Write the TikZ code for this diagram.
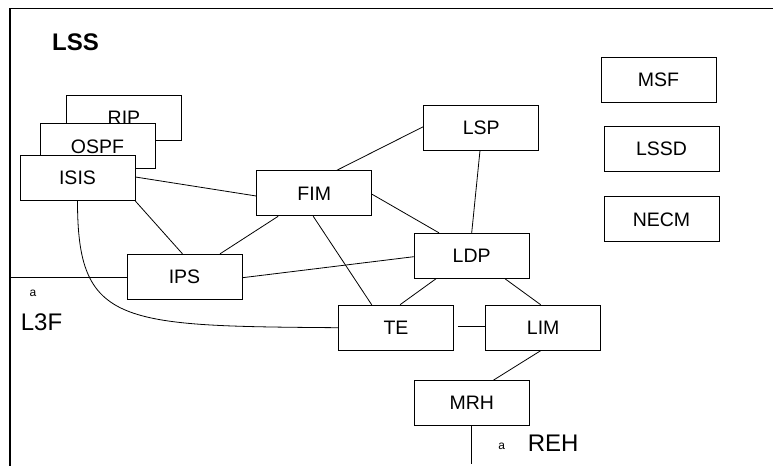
\documentclass[tikz,border=0pt]{standalone}
\usepackage{fontspec}
\setmainfont{Liberation Sans}
\usetikzlibrary{calc}
\begin{document}
\begin{tikzpicture}[x=1pt,y=-1pt,
  blk/.style={draw, fill=white, line width=0.9pt, minimum width=115pt, minimum height=45pt, inner sep=0pt, font=\fontsize{19.5}{20}\selectfont},
  con/.style={line width=0.8pt},
  frm/.style={line width=1.2pt},
  lbl/.style={font=\fontsize{24}{24}\selectfont, inner sep=0pt, anchor=base west},
  ttl/.style={font=\fontsize{24}{24}\selectfont\bfseries, inner sep=0pt, anchor=base west},
  sml/.style={font=\fontsize{12}{12}\selectfont, inner sep=0pt}]
\useasboundingbox (0,0) rectangle (773,466);
% frame
\coordinate (fTR) at (773,8.7);
\coordinate (fTL) at (10,8.7);
\coordinate (fBL) at (10,466);
\draw[frm] (fTR) -- (fTL) -- (fBL);
% boxes
\node[blk] (rip) at (124,117.5) {RIP};
\node[blk] (ospf) at (97.5,146.3) {OSPF};
\node[blk] (isis) at (77.5,178.2) {ISIS};
\node[blk] (fim) at (314.2,193.3) {FIM};
\node[blk] (lsp) at (481.2,127.5) {LSP};
\node[blk] (ldp) at (471.7,255.8) {LDP};
\node[blk] (ips) at (184.5,276.8) {IPS};
\node[blk] (te) at (396,327.7) {TE};
\node[blk] (lim) at (543.2,327.7) {LIM};
\node[blk] (mrh) at (471.8,403.2) {MRH};
\node[blk] (msf) at (658.5,80.2) {MSF};
\node[blk] (lssd) at (661.5,149.2) {LSSD};
\node[blk] (necm) at (661.5,219.4) {NECM};
% connectors
\draw[con] ($(isis.east)+(0,-1.2)$) -- ($(fim.west)+(0,2.7)$);
\draw[con] (isis.south east) -- ($(ips.north)+(-2,0)$);
\draw[con] (isis.south) .. controls ($(isis.south)+(0,124)$) and ($(te.west)+(-218.5,-1.7)$) .. (te.west);
\draw[con] ($(fim.north)+(22.5,0)$) -- ($(lsp.west)+(0,-0.8)$);
\draw[con] ($(fim.east)+(0,1)$) -- ($(ldp.north)+(-32.7,0)$);
\draw[con] ($(fim.south)+(-36,0)$) -- ($(ips.north)+(35.5,0)$);
\draw[con] ($(fim.south)+(-1,0)$) -- ($(te.north)+(-24.3,0)$);
\draw[con] ($(lsp.south)+(-1.2,0)$) -- (ldp.north);
\draw[con] ($(ips.east)+(0,0.9)$) -- ($(ldp.west)+(0,0.9)$);
\draw[con] ($(ldp.south)+(-35.7,0)$) -- ($(te.north)+(4,0)$);
\draw[con] ($(ldp.south)+(33.3,0)$) -- ($(lim.north)+(-2.5,0)$);
\draw[con] ($(te.east)+(4,-1)$) -- ($(lim.west)+(0,-1)$);
\draw[con] ($(lim.south)+(-2.5,0)$) -- ($(mrh.north)+(21.5,0)$);
\coordinate (rehend) at (471.8,464);
\draw[con] (mrh.south) -- (rehend);
\coordinate (l3fstart) at (10,277.7);
\draw[con] (l3fstart) -- ($(ips.west)+(0,0.9)$);
% labels
\node[ttl] (lss) at (52,50.7) {LSS};
\node[sml] (a1) at (33,293) {a};
\node[lbl] (l3f) at (20.7,330) {L3F};
\node[sml] (a2) at (501.7,446.5) {a};
\node[lbl] (reh) at (527.7,451.7) {REH};
\end{tikzpicture}
\end{document}
